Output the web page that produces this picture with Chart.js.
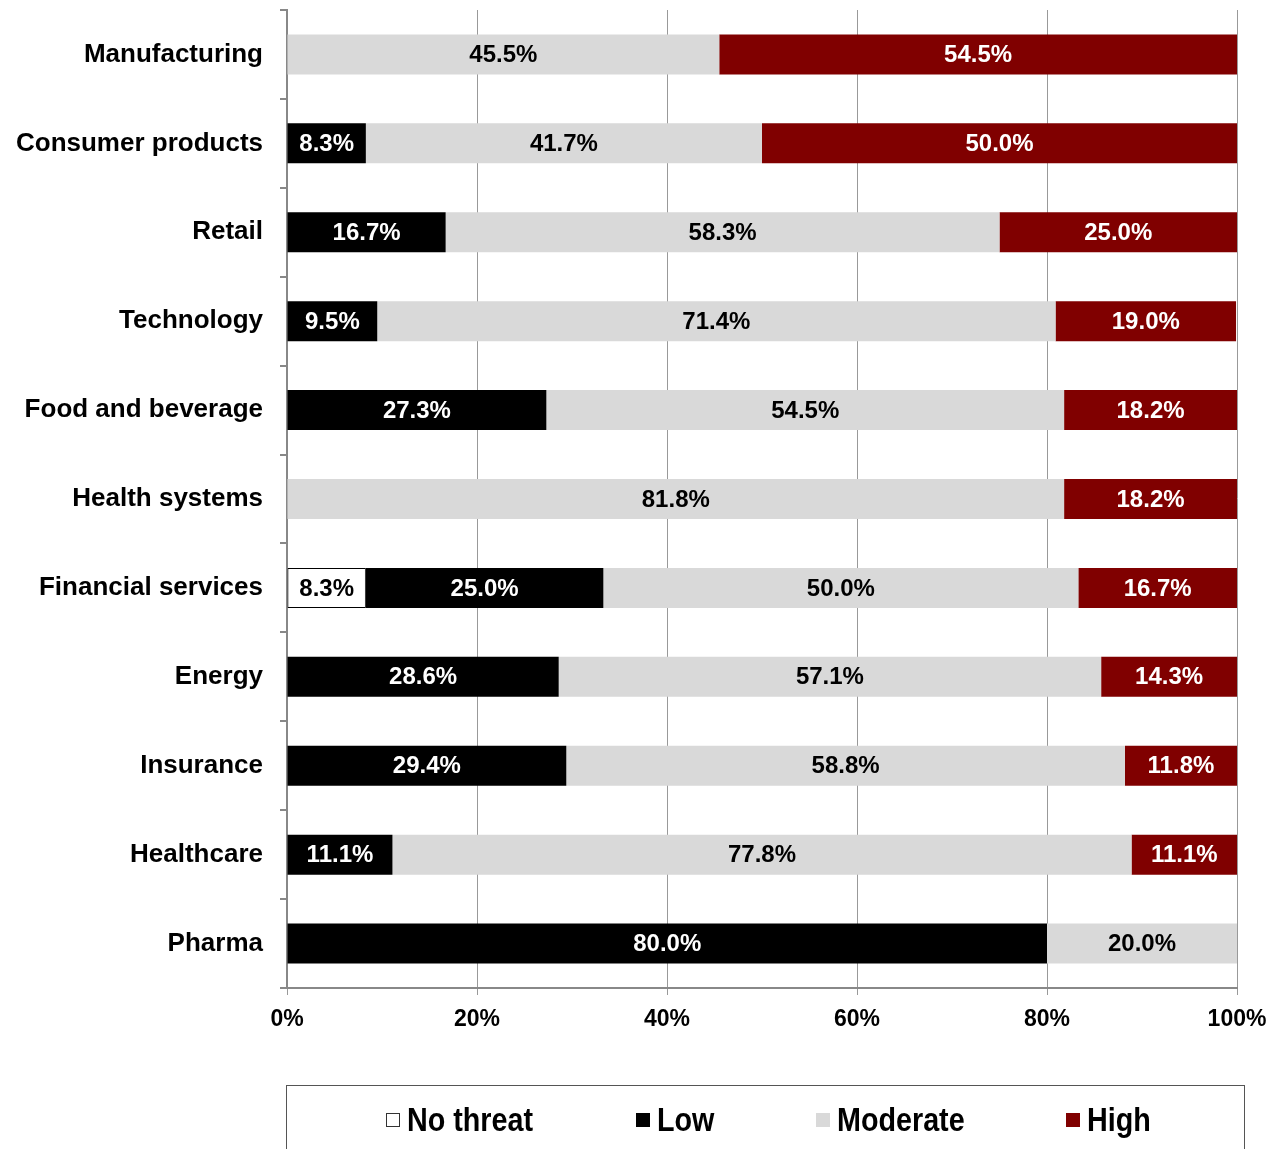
<!DOCTYPE html>
<html><head><meta charset="utf-8">
<script src="https://cdn.jsdelivr.net/npm/chart.js@4/dist/chart.umd.min.js"></script>
<style>
html,body{margin:0;padding:0;background:#fff;}
#wrap{position:relative;width:1280px;height:1149px;overflow:hidden;}
#legend{position:absolute;left:286px;top:1085px;width:959px;height:80px;border:1px solid #555;box-sizing:border-box;font-family:"Liberation Sans",Arial,sans-serif;font-weight:bold;font-size:33px;color:#000;}
.li{position:absolute;top:15px;display:flex;align-items:center;white-space:nowrap;}
.sw{width:14px;height:14px;margin-right:7px;box-sizing:border-box;}
.tx{display:inline-block;transform:scaleX(0.87);transform-origin:left center;}
</style></head>
<body><div id="wrap"><canvas id="c" width="1280" height="1149"></canvas>
<div id="legend"></div></div>
<script>
const categories = ["Manufacturing","Consumer products","Retail","Technology","Food and beverage","Health systems","Financial services","Energy","Insurance","Healthcare","Pharma"];
const seriesNames = ["No threat","Low","Moderate","High"];
const noThreat = [0,0,0,0,0,0,8.3,0,0,0,0];
const low      = [0,8.3,16.7,9.5,27.3,0,25.0,28.6,29.4,11.1,80.0];
const moderate = [45.5,41.7,58.3,71.4,54.5,81.8,50.0,57.1,58.8,77.8,20.0];
const high     = [54.5,50.0,25.0,19.0,18.2,18.2,16.7,14.3,11.8,11.1,0];
const xTicks = [0,20,40,60,80,100];

const fills = ["#ffffff","#000000","#d9d9d9","#800000"];
const borders = ["#000000","#000000","#d9d9d9","#800000"];
const labelColors = ["#000000","#ffffff","#000000","#ffffff"];
const values = [noThreat, low, moderate, high];

const datasets = seriesNames.map((n,i)=>({
  label:n, data: values[i], backgroundColor: fills[i], borderColor: borders[i],
  borderWidth: i===0?1:0, borderSkipped:false,
  barPercentage:0.45, categoryPercentage:1.0
}));

const barLabels = {
  id:'barLabels',
  afterDatasetsDraw(chart){
    const ctx = chart.ctx;
    ctx.save();
    ctx.font = 'bold 24px "Liberation Sans", Arial, sans-serif';
    ctx.textAlign='center'; ctx.textBaseline='middle';
    chart.data.datasets.forEach((ds,di)=>{
      const meta = chart.getDatasetMeta(di);
      meta.data.forEach((el,j)=>{
        const v = ds.data[j];
        if(!v) return;
        ctx.fillStyle = labelColors[di];
        ctx.fillText(v.toFixed(1)+'%', (el.x+el.base)/2, el.y+1);
      });
    });
    ctx.restore();
  }
};

new Chart(document.getElementById('c'), {
  type:'bar',
  data:{labels:categories, datasets},
  plugins:[barLabels],
  options:{
    indexAxis:'y', responsive:false, animation:false,
    layout:{padding:{left:0,right:43,top:10,bottom:111}},
    plugins:{legend:{display:false}, tooltip:{enabled:false}},
    scales:{
      x:{stacked:true, min:0, max:100,
        afterBuildTicks(s){ s.ticks = xTicks.map(v=>({value:v})); },
        afterFit(s){ s.height = 50; s.paddingLeft = 0; s.paddingRight = 0; },
        grid:{color:'#999999', lineWidth:1, tickLength:7, drawTicks:true},
        border:{color:'#888888', width:2},
        ticks:{padding:11, color:'#000', font:{family:'"Liberation Sans", Arial, sans-serif', size:23, weight:'bold'},
          callback:(v)=>v+'%', maxRotation:0}
      },
      y:{stacked:true,
        afterFit(s){ s.width = 287; s.paddingTop = 0; s.paddingBottom = 0; },
        grid:{offset:true, drawOnChartArea:false, color:'#888888', lineWidth:2, tickLength:7},
        border:{color:'#888888', width:2},
        ticks:{padding:17, color:'#000', font:{family:'"Liberation Sans", Arial, sans-serif', size:26, weight:'bold'}}
      }
    }
  }
});

const lg = document.getElementById('legend');
const pos = [99, 349, 529, 779];
seriesNames.forEach((n,i)=>{
  const d = document.createElement('div'); d.className='li'; d.style.left=pos[i]+'px';
  const s = document.createElement('span'); s.className='sw';
  s.style.background = fills[i]; s.style.border = i===0?'1px solid #333':'none';
  const t = document.createElement('span'); t.className='tx'; t.textContent = n;
  d.appendChild(s); d.appendChild(t); lg.appendChild(d);
});
</script></body></html>
